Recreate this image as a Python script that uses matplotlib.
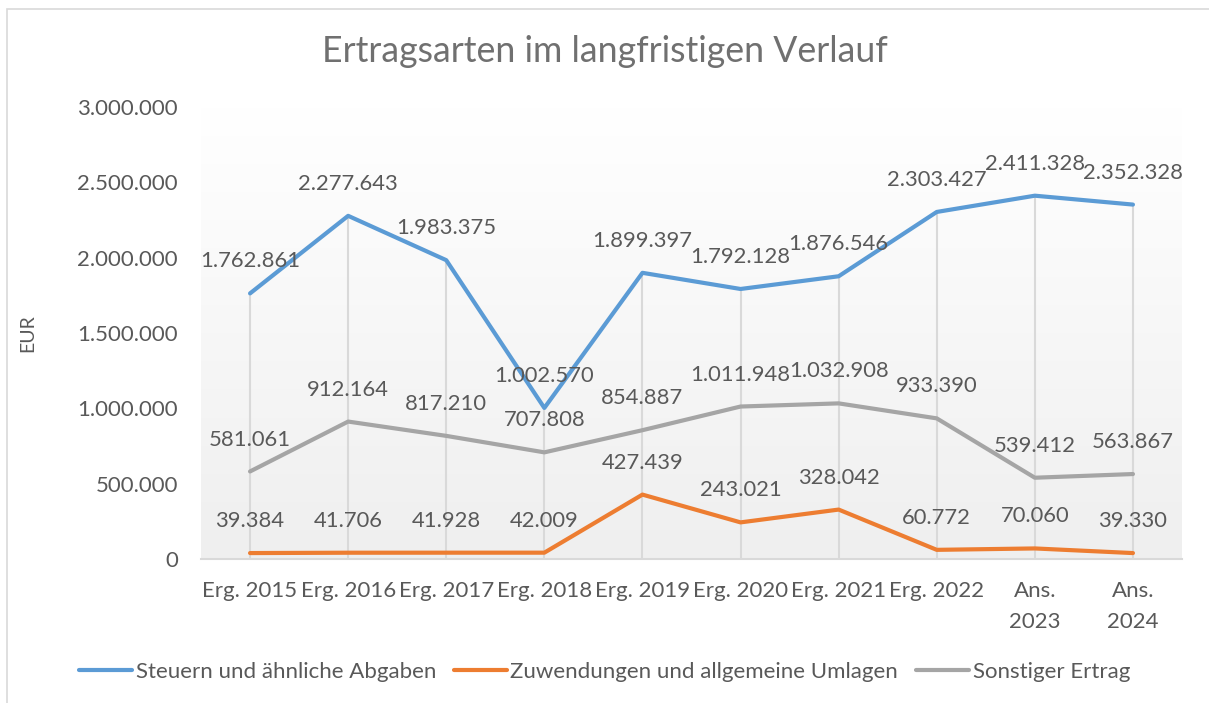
#!/usr/bin/env python3
"""
Ertragsarten im langfristigen Verlauf - line chart with data labels.
"""
import matplotlib
matplotlib.use("Agg")
import matplotlib.pyplot as plt
from matplotlib.patches import Rectangle
import numpy as np

# Data
categories = ["Erg. 2015", "Erg. 2016", "Erg. 2017", "Erg. 2018", "Erg. 2019",
              "Erg. 2020", "Erg. 2021", "Erg. 2022", "Ans.\n2023", "Ans.\n2024"]
steuern = [1762861, 2277643, 1983375, 1002570, 1899397,
           1792128, 1876546, 2303427, 2411328, 2352328]
zuwendungen = [39384, 41706, 41928, 42009, 427439,
               243021, 328042, 60772, 70060, 39330]
sonstige = [581061, 912164, 817210, 707808, 854887,
            1011948, 1032908, 933390, 539412, 563867]
series_names = ["Steuern und ähnliche Abgaben",
                "Zuwendungen und allgemeine Umlagen",
                "Sonstiger Ertrag"]
y_ticks = [0, 500000, 1000000, 1500000, 2000000, 2500000, 3000000]

colors = ["#5B9BD5", "#ED7D31", "#A5A5A5"]
text_color = "#595959"
plt.rcParams['font.family'] = ['Lato', 'DejaVu Sans']


def de_fmt(v):
    return f"{v:,}".replace(",", ".")


fig = plt.figure(figsize=(12.09, 7.03), dpi=100)

# outer chart border (cropped on right / bottom)
fig.add_artist(Rectangle((7 / 1209, -0.2), 1.5, 1.2 - 9 / 703,
                         transform=fig.transFigure, fill=False,
                         edgecolor="#D9D9D9", linewidth=1.2))

ax = fig.add_axes([201 / 1209, 1 - 559 / 703, 981 / 1209, 452 / 703])
x = np.arange(len(categories))

# gradient plot-area background (grey at bottom, white at top)
grad = np.linspace(0.0, 1.0, 256).reshape(-1, 1)
bg_cmap = matplotlib.colors.LinearSegmentedColormap.from_list(
    "bg", ["#EFEFEF", "#FFFFFF"])
ax.imshow(grad, extent=[-0.5, len(categories) - 0.5, 0, 3000000],
          aspect="auto", cmap=bg_cmap, origin="lower", zorder=0)

# drop lines from the top series down to the axis
tops = np.max([steuern, zuwendungen, sonstige], axis=0)
ax.vlines(x, 0, tops, color="#D9D9D9", linewidth=1.5, zorder=1)

for vals, col, name in zip([steuern, zuwendungen, sonstige], colors, series_names):
    ax.plot(x, vals, color=col, linewidth=3, solid_capstyle="round",
            solid_joinstyle="round", label=name, zorder=3)
    for xi, v in zip(x, vals):
        ax.annotate(de_fmt(v), (xi, v), xytext=(0, 23), textcoords="offset points",
                    ha="center", va="center", fontsize=15.8, color=text_color,
                    zorder=4)

ax.set_xlim(-0.5, len(categories) - 0.5)
ax.set_ylim(0, 3000000)
ax.set_yticks(y_ticks)
ax.set_yticklabels([de_fmt(t) for t in y_ticks])
ax.set_xticks(x)
ax.set_xticklabels(categories, linespacing=1.65)
ax.tick_params(axis="both", length=0, labelsize=16, labelcolor=text_color)
ax.tick_params(axis="x", pad=16)
ax.tick_params(axis="y", pad=16.5)
for s in ["top", "right", "left"]:
    ax.spines[s].set_visible(False)
ax.spines["bottom"].set_color("#D9D9D9")
ax.spines["bottom"].set_linewidth(1.5)

ax.set_ylabel("EUR", fontsize=14, color=text_color)
ax.yaxis.set_label_coords(-0.168, 0.5)

fig.text(0.5, 1 - 52 / 703, "Ertragsarten im langfristigen Verlauf",
         ha="center", va="center", fontsize=25.7, color="#707070")

leg = fig.legend(loc="center", bbox_to_anchor=(0.5, 1 - 672 / 703), ncol=3,
                 frameon=False, fontsize=16, handlelength=2.4,
                 columnspacing=0.8, handletextpad=0.15)
for t in leg.get_texts():
    t.set_color(text_color)

plt.savefig("out.png", dpi=100)
